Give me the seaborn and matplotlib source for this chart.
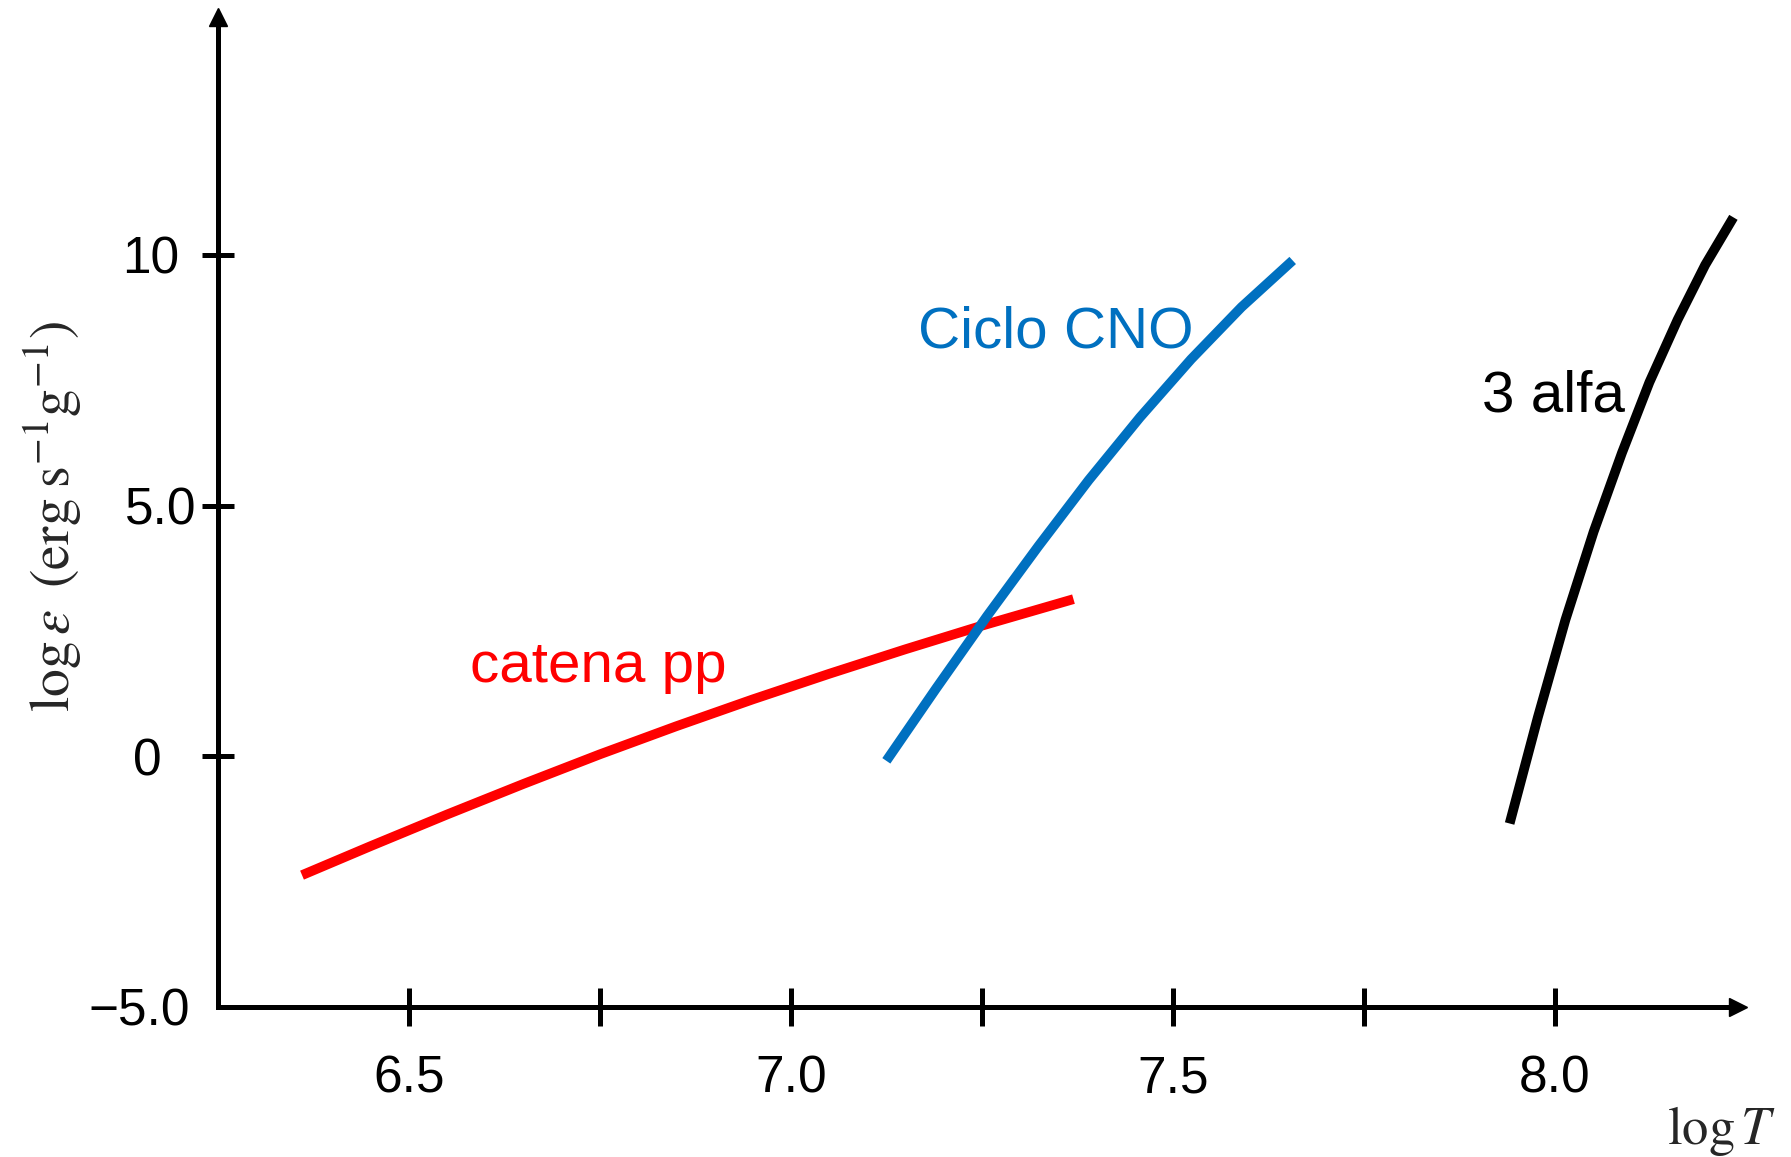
import matplotlib
matplotlib.use("Agg")
import matplotlib.pyplot as plt
import matplotlib.transforms as mtransforms
import numpy as np
import pandas as pd
import seaborn as sns

# ---- data ----
pp_logT = [6.36, 6.45, 6.55, 6.65, 6.75, 6.85, 6.95, 7.05, 7.15, 7.25, 7.37]
pp_logeps = [-2.37, -1.79, -1.16, -0.55, 0.04, 0.60, 1.135, 1.645, 2.135, 2.605, 3.135]

cno_logT = [7.125, 7.19, 7.257, 7.324, 7.39, 7.457, 7.524, 7.59, 7.657]
cno_logeps = [-0.09, 1.35, 2.80, 4.19, 5.51, 6.76, 7.92, 8.96, 9.89]

alfa_logT = [7.941, 7.978, 8.014, 8.051, 8.088, 8.124, 8.161, 8.197, 8.234]
alfa_logeps = [-1.34, 0.78, 2.72, 4.48, 6.05, 7.46, 8.71, 9.80, 10.75]

series_names = ["catena pp", "Ciclo CNO", "3 alfa"]
series_colors = ["#FF0000", "#0070C0", "#000000"]

x_ticks = [6.5, 6.75, 7.0, 7.25, 7.5, 7.75, 8.0]
x_tick_labels = ["6.5", "", "7.0", "", "7.5", "", "8.0"]
y_ticks = [-5, 0, 5, 10]
y_tick_labels = ["\u22125.0", "0", "5.0", "10"]

# ---- build table ----
df = pd.concat([
    pd.DataFrame({"logT": pp_logT, "logeps": pp_logeps, "processo": series_names[0]}),
    pd.DataFrame({"logT": cno_logT, "logeps": cno_logeps, "processo": series_names[1]}),
    pd.DataFrame({"logT": alfa_logT, "logeps": alfa_logeps, "processo": series_names[2]}),
], ignore_index=True)

sns.set_style("white")
plt.rcParams["font.family"] = ["Liberation Sans", "DejaVu Sans"]
plt.rcParams["mathtext.fontset"] = "stix"

W, H = 1791, 1157
fig = plt.figure(figsize=(W / 100, H / 100), dpi=100)
ax = fig.add_axes([218 / W, 1 - 1007 / H, 1520 / W, (1007 - 16.8) / H])

sns.lineplot(data=df, x="logT", y="logeps", hue="processo",
             palette=dict(zip(series_names, series_colors)),
             estimator=None, sort=False, legend=False, lw=7,
             solid_capstyle="butt", solid_joinstyle="round", ax=ax)

ax.set_xlim(6.25, 8.24)
ax.set_ylim(-5, 14.75)

for s in ["top", "right"]:
    ax.spines[s].set_visible(False)
for s in ["left", "bottom"]:
    ax.spines[s].set_linewidth(3.6)
    ax.spines[s].set_color("black")

ax.set_xticks(x_ticks, x_tick_labels)
ax.set_yticks(y_ticks, y_tick_labels)
ax.tick_params(axis="x", bottom=True, direction="inout", length=27, width=3.6,
               pad=21, labelsize=37, colors="black")
ax.tick_params(axis="y", left=True, direction="inout", length=23, width=3.6,
               pad=37, labelsize=37, colors="black")

# small horizontal nudges (points) of the y tick labels, as in the reference
y_label_nudge = [-8.0, -2.5, 7.0, 0.0]
for lab, dx in zip(ax.get_yticklabels(), y_label_nudge):
    lab.set_horizontalalignment("center")
    lab.set_transform(lab.get_transform() +
                      mtransforms.ScaledTranslation(dx / 72, 0, fig.dpi_scale_trans))
ax.yaxis.get_major_ticks()[0].tick1line.set_visible(False)
ax.set_xlabel("")
ax.set_ylabel("")

# arrow heads on axes
ax.plot(1, 0, marker=">", color="black", ms=13, transform=ax.transAxes, clip_on=False)
ax.plot(0, 1, marker="^", color="black", ms=13, transform=ax.transAxes, clip_on=False)

# curve labels
ax.text(6.580, 1.48, "catena pp", color=series_colors[0], fontsize=42, ha="left", va="baseline")
ax.text(7.167, 8.16, "Ciclo CNO", color=series_colors[1], fontsize=42, ha="left", va="baseline")
ax.text(7.905, 6.87, "3 alfa", color=series_colors[2], fontsize=42, ha="left", va="baseline")

# axis labels
fig.text(1776 / W, 1 - 1131 / H, r"$\log T$", ha="right", va="center", fontsize=38)
fig.text(52 / W, 1 - 517 / H, r"$\log\varepsilon\;\;(\mathrm{erg\;s^{-1}g^{-1}})$",
         rotation=90, ha="center", va="center", fontsize=40)

fig.savefig("out.png", dpi=100)
